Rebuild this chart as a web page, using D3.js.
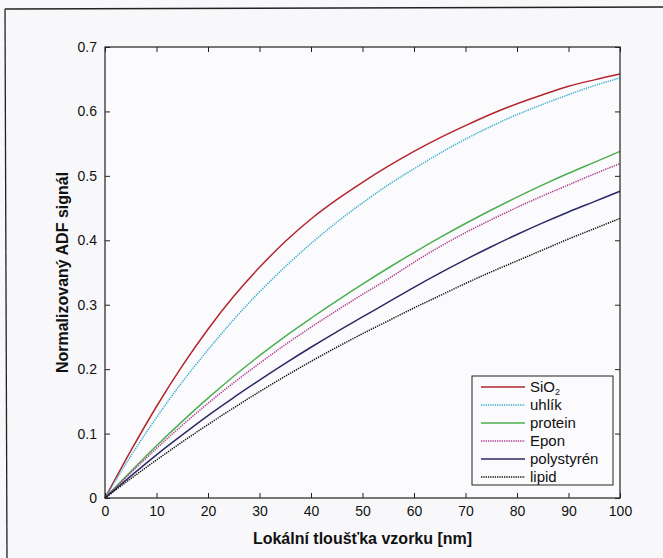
<!DOCTYPE html>
<html>
<head>
<meta charset="utf-8">
<script src="https://cdn.jsdelivr.net/npm/d3@7"></script>
<style>
  body { margin: 0; background: #f8f8fa; }
  svg { display: block; font-family: Arial, "Liberation Sans", sans-serif; }
</style>
</head>
<body>
<div id="chart"></div>
<script>
// thickness grid [nm]
var thickness = [0, 5, 10, 15, 20, 25, 30, 35, 40, 45, 50, 55, 60, 65, 70, 75, 80, 85, 90, 95, 100];

var sio2       = [0, 0.073, 0.142, 0.205, 0.262, 0.313, 0.358, 0.398, 0.433, 0.463, 0.49, 0.515, 0.538, 0.559, 0.578, 0.596, 0.612, 0.626, 0.639, 0.649, 0.658];
var uhlik      = [0, 0.065, 0.125, 0.18, 0.23, 0.277, 0.32, 0.359, 0.395, 0.428, 0.458, 0.486, 0.511, 0.535, 0.557, 0.577, 0.595, 0.611, 0.626, 0.64, 0.652];
var protein    = [0, 0.041, 0.081, 0.119, 0.155, 0.189, 0.221, 0.251, 0.279, 0.306, 0.332, 0.357, 0.381, 0.404, 0.426, 0.447, 0.467, 0.486, 0.504, 0.521, 0.538];
var epon       = [0, 0.039, 0.077, 0.113, 0.147, 0.179, 0.209, 0.238, 0.265, 0.291, 0.316, 0.34, 0.366, 0.39, 0.412, 0.432, 0.451, 0.469, 0.486, 0.503, 0.519];
var polystyren = [0, 0.034, 0.067, 0.098, 0.128, 0.156, 0.183, 0.209, 0.234, 0.258, 0.281, 0.304, 0.327, 0.349, 0.37, 0.39, 0.409, 0.427, 0.444, 0.46, 0.476];
var lipid      = [0, 0.03, 0.059, 0.087, 0.114, 0.14, 0.165, 0.189, 0.212, 0.234, 0.255, 0.275, 0.295, 0.314, 0.333, 0.351, 0.368, 0.385, 0.402, 0.418, 0.434];

var seriesNames = ['SiO2', 'uhlík', 'protein', 'Epon', 'polystyrén', 'lipid'];
var seriesValues = [sio2, uhlik, protein, epon, polystyren, lipid];
var colors = ['#b3262e', '#3aaecb', '#4caf50', '#b03a8c', '#2b2a66', '#111111'];
var dashes = [null, '1.3,1', null, '1.3,1', null, '1.3,1'];

var xTicks = [0, 10, 20, 30, 40, 50, 60, 70, 80, 90, 100];
var yTicks = [0, 0.1, 0.2, 0.3, 0.4, 0.5, 0.6, 0.7];

var W = 663, H = 558;
var pl = 105, pr = 620, pt = 47, pb = 498;

var svg = d3.select('#chart').append('svg')
    .attr('width', W)
    .attr('height', H);

svg.append('rect').attr('width', W).attr('height', H).attr('fill', '#f8f8fa');

// scanned page frame
svg.append('line').attr('x1', 5).attr('y1', 9).attr('x2', 670).attr('y2', 7)
    .attr('stroke', '#222').attr('stroke-width', 1.3);
svg.append('line').attr('x1', 5).attr('y1', 9).attr('x2', 7).attr('y2', 560)
    .attr('stroke', '#222').attr('stroke-width', 1.3);

var x = d3.scaleLinear().domain([0, 100]).range([pl, pr]);
var y = d3.scaleLinear().domain([0, 0.7]).range([pb, pt]);

svg.append('rect')
    .attr('x', pl).attr('y', pt)
    .attr('width', pr - pl).attr('height', pb - pt)
    .attr('fill', '#fbfbfd');

var lineGen = d3.line()
    .x(function(d, i) { return x(thickness[i]); })
    .y(function(d) { return y(d); })
    .curve(d3.curveMonotoneX);

seriesValues.forEach(function(vals, k) {
  svg.append('path')
      .attr('d', lineGen(vals))
      .attr('fill', 'none')
      .attr('stroke', colors[k])
      .attr('stroke-width', 1.5)
      .attr('stroke-dasharray', dashes[k]);
});

// axes with inward ticks on all four sides
function styleAxis(g) {
  g.select('.domain').remove();
  g.selectAll('.tick line').attr('stroke', '#222').attr('stroke-width', 1);
  g.selectAll('.tick text').attr('fill', '#111').style('font-size', '14px');
}

svg.append('g').attr('transform', 'translate(0,' + pb + ')')
    .call(d3.axisBottom(x).tickValues(xTicks).tickSize(-5).tickPadding(8).tickFormat(d3.format('d')))
    .call(styleAxis);
svg.append('g').attr('transform', 'translate(0,' + pt + ')')
    .call(d3.axisTop(x).tickValues(xTicks).tickSize(-5).tickFormat(''))
    .call(styleAxis);
svg.append('g').attr('transform', 'translate(' + pl + ',0)')
    .call(d3.axisLeft(y).tickValues(yTicks).tickSize(-5).tickPadding(8).tickFormat(function(d) { return d === 0 ? '0' : d3.format('.1f')(d); }))
    .call(styleAxis);
svg.append('g').attr('transform', 'translate(' + pr + ',0)')
    .call(d3.axisRight(y).tickValues(yTicks).tickSize(-5).tickFormat(''))
    .call(styleAxis);

svg.append('rect')
    .attr('x', pl).attr('y', pt)
    .attr('width', pr - pl).attr('height', pb - pt)
    .attr('fill', 'none').attr('stroke', '#222').attr('stroke-width', 1.2);

// axis titles
svg.append('text')
    .attr('x', (pl + pr) / 2).attr('y', 544)
    .attr('text-anchor', 'middle')
    .style('font-size', '16px').style('font-weight', 'bold').attr('fill', '#111')
    .text('Lokální tloušťka vzorku [nm]');

svg.append('text')
    .attr('transform', 'translate(68,' + ((pt + pb) / 2) + ') rotate(-90)')
    .attr('text-anchor', 'middle')
    .style('font-size', '16px').style('font-weight', 'bold').attr('fill', '#111')
    .text('Normalizovaný ADF signál');

// legend
var lg = svg.append('g').attr('transform', 'translate(472,376)');
lg.append('rect').attr('width', 141).attr('height', 109)
    .attr('fill', '#fbfbfd').attr('stroke', '#222').attr('stroke-width', 1);

seriesNames.forEach(function(name, k) {
  var ly = 11 + k * 18;
  lg.append('line')
      .attr('x1', 9).attr('x2', 53).attr('y1', ly).attr('y2', ly)
      .attr('stroke', colors[k]).attr('stroke-width', 1.5)
      .attr('stroke-dasharray', dashes[k]);
  var t = lg.append('text').attr('x', 58).attr('y', ly + 5)
      .style('font-size', '15px').attr('fill', '#111');
  if (name === 'SiO2') {
    t.append('tspan').text('SiO');
    t.append('tspan').attr('dy', 3).style('font-size', '9px').text('2');
  } else {
    t.text(name);
  }
});
</script>
</body>
</html>
